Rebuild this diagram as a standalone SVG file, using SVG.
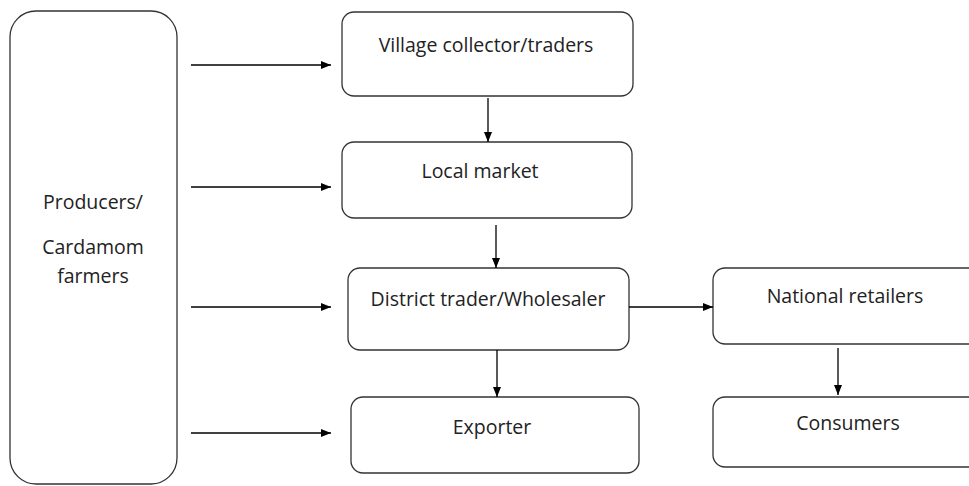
<svg xmlns="http://www.w3.org/2000/svg" width="969" height="486" viewBox="0 0 969 486">
<defs>
<marker id="ah" markerWidth="10" markerHeight="8" refX="10" refY="4" orient="auto" markerUnits="userSpaceOnUse">
<path d="M0,0 L10,4 L0,8 Z" fill="#000"/>
</marker>
<style>
.box{fill:#fff;stroke:#333;stroke-width:1.3}
.t{font-family:"Open Sans","Noto Sans",sans-serif;font-size:19.5px;fill:#222;text-anchor:middle}
.c{stroke:#000;stroke-width:1.3;fill:none}
</style>
</defs>
<rect width="969" height="486" fill="#fff"/>
<g id="producers">
<rect class="box" x="10" y="11" width="167" height="473" rx="26"/>
<text class="t" x="93" y="209">Producers/</text>
<text class="t" x="93" y="254">Cardamom</text>
<text class="t" x="93" y="283">farmers</text>
</g>
<g id="village">
<rect class="box" x="342" y="12" width="291" height="84" rx="12"/>
<text class="t" x="486" y="52">Village collector/traders</text>
</g>
<g id="local">
<rect class="box" x="342" y="142" width="290" height="76" rx="12"/>
<text class="t" x="480" y="178">Local market</text>
</g>
<g id="district">
<rect class="box" x="348" y="268" width="281" height="82" rx="12"/>
<text class="t" x="488" y="306">District trader/Wholesaler</text>
</g>
<g id="exporter">
<rect class="box" x="351" y="397" width="288" height="76" rx="12"/>
<text class="t" x="492" y="434">Exporter</text>
</g>
<g id="national">
<rect class="box" x="713" y="268" width="280" height="76" rx="12"/>
<text class="t" x="845" y="303">National retailers</text>
</g>
<g id="consumers">
<rect class="box" x="713" y="397" width="280" height="70" rx="12"/>
<text class="t" x="848" y="430">Consumers</text>
</g>
<g id="connectors">
<line class="c" x1="191" y1="65" x2="331" y2="65" marker-end="url(#ah)"/>
<line class="c" x1="191" y1="187" x2="331" y2="187" marker-end="url(#ah)"/>
<line class="c" x1="191" y1="307" x2="331" y2="307" marker-end="url(#ah)"/>
<line class="c" x1="191" y1="433" x2="331" y2="433" marker-end="url(#ah)"/>
<line class="c" x1="488" y1="98" x2="488" y2="142" marker-end="url(#ah)"/>
<line class="c" x1="496" y1="225" x2="496" y2="268" marker-end="url(#ah)"/>
<line class="c" x1="497" y1="350" x2="497" y2="397" marker-end="url(#ah)"/>
<line class="c" x1="629" y1="307" x2="713" y2="307" marker-end="url(#ah)"/>
<line class="c" x1="838" y1="348" x2="838" y2="395" marker-end="url(#ah)"/>
</g>
</svg>
